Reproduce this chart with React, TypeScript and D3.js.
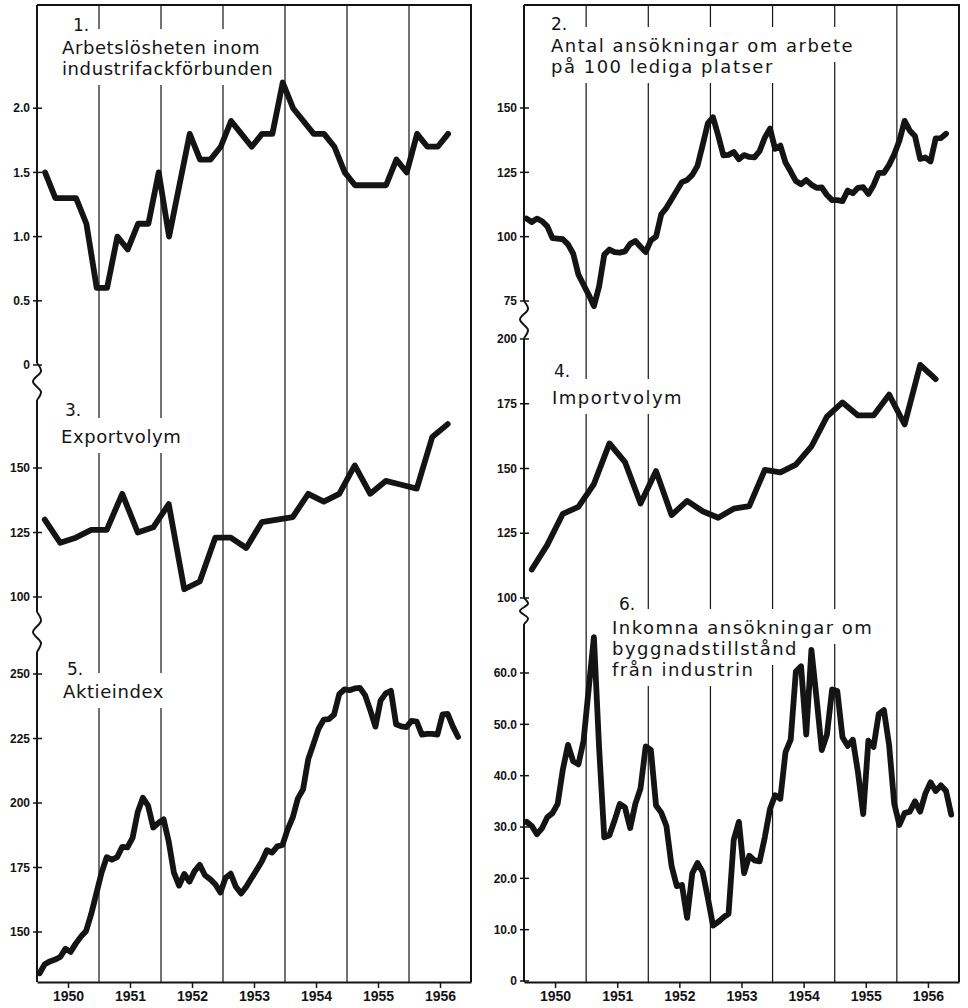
import React, { useRef, useEffect } from 'react';
import * as d3 from 'd3';

const years = [1950, 1951, 1952, 1953, 1954, 1955, 1956];

// 1. Arbetslösheten inom industrifackförbunden (varannan månad)
const unemployment = [
  1.5, 1.3, 1.3, 1.3, 1.1, 0.6, 0.6, 1.0, 0.9, 1.1,
  1.1, 1.5, 1.0, 1.4, 1.8, 1.6, 1.6, 1.7, 1.9, 1.8,
  1.7, 1.8, 1.8, 2.2, 2.0, 1.9, 1.8, 1.8, 1.7, 1.5,
  1.4, 1.4, 1.4, 1.4, 1.6, 1.5, 1.8, 1.7, 1.7, 1.8,
];

// 3. Exportvolym (kvartal)
const exportVolume = [
  130, 121, 123, 126, 126, 140, 125, 127, 136, 103,
  106, 123, 123, 119, 129, 130, 131, 140, 137, 140,
  151, 140, 145, 143.5, 142, 162, 167,
];

// 5. Aktieindex (månad)
const shareIndex = [
  134, 137.5, 138.6, 139.3, 140.3, 143.5, 142.3, 145.5, 148.2, 150.4,
  157, 165, 173, 179, 178, 179, 183, 182.8, 186.5, 196.5,
  202, 199, 190.5, 192.3, 193.7, 185, 173, 168, 172.5, 169.5,
  173.6, 176, 172, 170.5, 168.5, 165.3, 171, 172.6, 167.5, 164.9,
  167.5, 170.8, 174, 177.3, 181.7, 180.8, 183.2, 183.7, 189.7, 194.4,
  201.8, 205.3, 217, 222.8, 228.8, 232.3, 232.5, 234.3, 242.2, 244,
  243.7, 244.4, 244.6, 241.8, 236, 229.6, 239.7, 242.5, 243.5, 230.5,
  229.7, 229.4, 231.8, 231.5, 226.5, 226.8, 226.8, 226.5, 234.3, 234.5,
  229.6, 225.6,
];

// 2. Antal ansökningar om arbete på 100 lediga platser (månad)
const applications = [
  107, 105.7, 107, 106, 104, 99.4, 99.2, 99, 97, 93.4,
  85.3, 81.3, 77.4, 73, 80.6, 93, 95, 94, 93.8, 94.3,
  97.2, 98.3, 96.1, 94, 98.6, 100, 108.7, 111.2, 114.5, 117.9,
  121.2, 122, 124, 127.5, 135.6, 144, 146.4, 139.3, 131.6, 131.8,
  132.9, 130.1, 131.7, 131, 130.8, 133.3, 138.5, 142, 134.1, 135.4,
  128.8, 125.3, 121.6, 120.4, 122, 120.2, 119, 119.1, 116.2, 114.2,
  114.2, 113.8, 117.9, 116.9, 119, 119.2, 116.6, 120, 124.8, 124.8,
  127.9, 132, 137.4, 145, 141.2, 139.1, 130.2, 130.8, 129.2, 138.2,
  138.3, 140,
];

// 4. Importvolym (kvartal)
const importVolume = [
  111, 120.5, 132.5, 135.2, 144, 159.7, 152.5, 136.5, 149, 132,
  137.5, 133.5, 131, 134.5, 135.5, 149.5, 148.5, 151.5, 158.5, 170,
  175.5, 170.5, 170.5, 178.5, 167, 190, 184.5,
];

// 6. Inkomna ansökningar om byggnadstillstånd från industrin (månad)
const buildingPermits = [
  31, 30.2, 28.6, 29.8, 31.9, 32.7, 34.5, 41.2, 46, 42.8,
  42.2, 46.8, 57, 67, 45.5, 28, 28.4, 31.3, 34.5, 33.8,
  29.8, 34.5, 37.5, 45.7, 45, 34.2, 32.8, 30.2, 22.4, 18.5,
  18.7, 12.3, 21, 23, 21.2, 16.2, 10.8, 11.5, 12.4, 13.1,
  27.5, 31, 21, 24.4, 23.5, 23.3, 28, 33.5, 36.2, 35.5,
  44.6, 47, 60.3, 61.3, 48, 64.5, 55, 45, 48, 56.8,
  56.5, 47.5, 45.8, 47, 40.6, 32.5, 46.8, 45.6, 52, 52.8,
  46, 34.5, 30.4, 32.7, 33, 35, 33, 36.5, 38.7, 37,
  38.1, 37, 32.4,
];

const titles = [
  ["Arbetslösheten inom", "industrifackförbunden"],
  ["Antal ansökningar om arbete", "på 100 lediga platser"],
  ["Exportvolym"],
  ["Importvolym"],
  ["Aktieindex"],
  ["Inkomna ansökningar om", "byggnadstillstånd", "från industrin"],
];

const W = 968;
const H = 1008;
const TOP = 5;
const BOTTOM = 982;
const INK = "#141414";
const titleFont = '"DejaVu Sans", sans-serif';
const tickFont = '"Liberation Sans", Arial, sans-serif';

const monthly = (i: number) => 1950 + (i + 0.5) / 12;
const quarterly = (i: number) => 1950.125 + i * 0.25;
const bimonthly = (i: number) => 1950.13 + i / 6;

const columns: Record<string, { x0: number; x1: number; breaks: number[][]; spacing: number }> = {
  left: { x0: 37, x1: 471, breaks: [[363, 400], [612, 652]], spacing: 0.6 },
  right: { x0: 524, x1: 959, breaks: [[301, 338], [598, 624]], spacing: 1.5 },
};

const fmt1 = (d: number) => (d === 0 ? "0" : d.toFixed(1));
const fmt0 = (d: number) => String(d);

const panels = [
  { col: "left", values: unemployment, time: bimonthly, domain: [0, 2], range: [365, 108.2], ticks: [0, 0.5, 1, 1.5, 2], fmt: fmt1,
    num: "1.", numPos: [73, 31], title: titles[0], titleX: 62, titleY: [54, 75] },
  { col: "right", values: applications, time: monthly, domain: [75, 150], range: [301, 108], ticks: [75, 100, 125, 150], fmt: fmt0,
    num: "2.", numPos: [551, 30], title: titles[1], titleX: 551, titleY: [52, 73] },
  { col: "left", values: exportVolume, time: quarterly, domain: [100, 150], range: [597, 468], ticks: [100, 125, 150], fmt: fmt0,
    num: "3.", numPos: [65, 416], title: titles[2], titleX: 61, titleY: [443] },
  { col: "right", values: importVolume, time: quarterly, domain: [100, 200], range: [598, 339], ticks: [100, 125, 150, 175, 200], fmt: fmt0,
    num: "4.", numPos: [554, 377], title: titles[3], titleX: 552, titleY: [404] },
  { col: "left", values: shareIndex, time: monthly, domain: [150, 250], range: [932, 674], ticks: [150, 175, 200, 225, 250], fmt: fmt0,
    num: "5.", numPos: [67, 675], title: titles[4], titleX: 63, titleY: [698] },
  { col: "right", values: buildingPermits, time: monthly, domain: [0, 60], range: [981, 673], ticks: [0, 10, 20, 30, 40, 50, 60], fmt: fmt1,
    num: "6.", numPos: [619, 610], title: titles[5], titleX: 612, titleY: [634, 655, 676] },
];

export default function App() {
  const svgRef = useRef<SVGSVGElement>(null);

  useEffect(() => {
    if (!svgRef.current) return;
    const svg = d3.select(svgRef.current);
    svg.selectAll("*").remove();

    svg.append("rect").attr("width", W).attr("height", H).attr("fill", "#fff");

    const xScales: Record<string, d3.ScaleLinear<number, number>> = {};
    Object.entries(columns).forEach(([key, c]) => {
      xScales[key] = d3.scaleLinear().domain([1950, 1957]).range([c.x0, c.x1]);
    });

    // year separators
    Object.entries(columns).forEach(([key]) => {
      const x = xScales[key];
      svg.append("g")
        .selectAll("line")
        .data(years.slice(1))
        .join("line")
        .attr("x1", d => x(d)).attr("x2", d => x(d))
        .attr("y1", TOP).attr("y2", BOTTOM)
        .attr("stroke", INK)
        .attr("stroke-width", 1.2);
    });

    // titles, with paper showing through behind the lettering
    panels.forEach(p => {
      const c = columns[p.col];
      const g = svg.append("g");
      const bg = g.append("g");
      g.append("text")
        .attr("x", p.numPos[0]).attr("y", p.numPos[1])
        .style("font-family", titleFont).style("font-size", "17px")
        .attr("fill", INK)
        .text(p.num);
      p.title.forEach((line, i) => {
        const t = g.append("text")
          .attr("x", p.titleX).attr("y", p.titleY[i])
          .style("font-family", titleFont).style("font-size", "18px")
          .style("letter-spacing", `${c.spacing}px`)
          .attr("fill", INK)
          .text(line);
        const b = (t.node() as SVGTextElement).getBBox();
        bg.append("rect")
          .attr("x", b.x - 6).attr("y", b.y - 8)
          .attr("width", b.width + 12).attr("height", b.height + 14)
          .attr("fill", "#fff");
      });
    });

    // frames and broken value axes
    Object.entries(columns).forEach(([key, c]) => {
      const x = xScales[key];
      const frame = svg.append("g").attr("fill", "none").attr("stroke", INK).attr("stroke-width", 2);
      frame.append("path").attr("d", `M${c.x0},${TOP}H${c.x1}V${BOTTOM}`);

      const stops = [TOP, ...c.breaks.flat(), BOTTOM];
      for (let i = 0; i < stops.length; i += 2) {
        frame.append("line")
          .attr("x1", c.x0).attr("x2", c.x0)
          .attr("y1", stops[i]).attr("y2", stops[i + 1]);
      }
      const wiggle = d3.line<[number, number]>().curve(d3.curveCatmullRom);
      c.breaks.forEach(([a, b]) => {
        const h = b - a;
        frame.append("path").attr("d", wiggle([
          [c.x0, a], [c.x0 + 4, a + h * 0.22], [c.x0 - 4, a + h * 0.5], [c.x0 + 4, a + h * 0.78], [c.x0, b],
        ]));
      });

      const axis = svg.append("g")
        .attr("transform", `translate(0,${BOTTOM})`)
        .call(d3.axisBottom(x)
          .tickValues(years.map(y => y + 0.5))
          .tickFormat(d => String(Math.floor(+d)))
          .tickSizeInner(6).tickSizeOuter(0).tickPadding(3));
      axis.select(".domain").attr("stroke", INK).attr("stroke-width", 2);
      axis.selectAll(".tick line").attr("stroke", INK).attr("stroke-width", 1.5);
      axis.selectAll("text")
        .style("font-family", tickFont).style("font-size", "14px").style("font-weight", "bold")
        .attr("fill", INK);
    });

    // value ticks and series
    panels.forEach(p => {
      const c = columns[p.col];
      const x = xScales[p.col];
      const y = d3.scaleLinear().domain(p.domain).range(p.range);

      const ticks = svg.append("g");
      ticks.selectAll("line")
        .data(p.ticks)
        .join("line")
        .attr("x1", c.x0 - 4).attr("x2", c.x0 + 5)
        .attr("y1", d => y(d)).attr("y2", d => y(d))
        .attr("stroke", INK).attr("stroke-width", 1.5);
      ticks.selectAll("text")
        .data(p.ticks)
        .join("text")
        .attr("x", c.x0 - 7).attr("y", d => y(d)).attr("dy", "0.35em")
        .attr("text-anchor", "end")
        .style("font-family", tickFont).style("font-size", "12px").style("font-weight", "bold")
        .attr("fill", INK)
        .text(d => p.fmt(d));

      const line = d3.line<number>()
        .x((_, i) => x(p.time(i)))
        .y(d => y(d));

      svg.append("path")
        .datum(p.values)
        .attr("fill", "none")
        .attr("stroke", INK)
        .attr("stroke-width", 5.8)
        .attr("stroke-linejoin", "round")
        .attr("stroke-linecap", "round")
        .attr("d", line);
    });
  }, []);

  return (
    <svg
      ref={svgRef}
      width={W}
      height={H}
      style={{ position: "absolute", left: 0, top: 0, display: "block" }}
    />
  );
}
